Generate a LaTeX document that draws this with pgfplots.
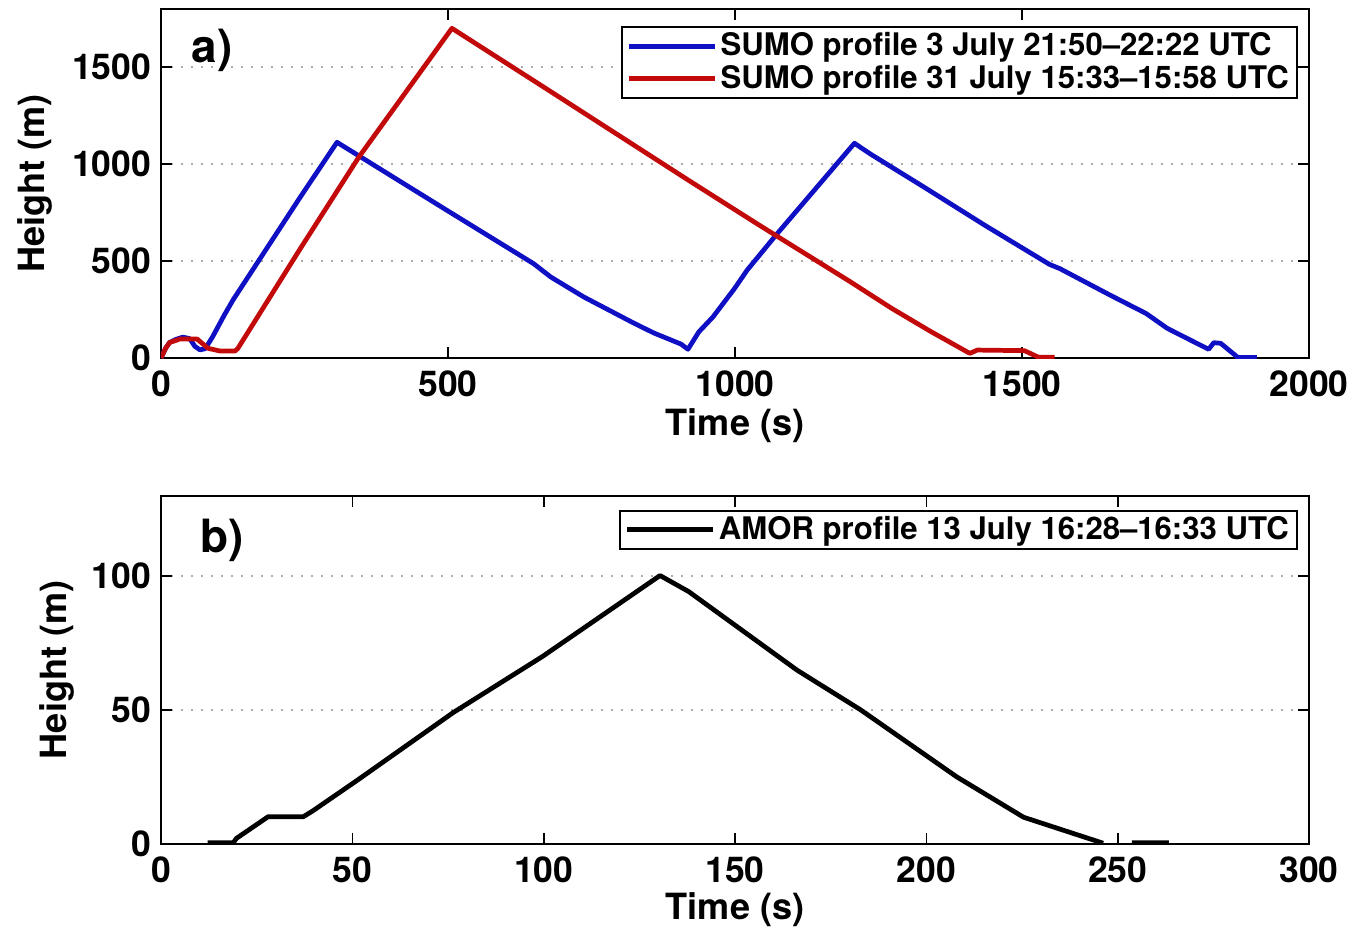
\documentclass[border=0pt]{standalone}
\usepackage{pgfplots}
\pgfplotsset{compat=1.18}
\usepackage{fontspec}
\setmainfont{TeX Gyre Heros}
\definecolor{mblue}{RGB}{15,15,195}
\definecolor{mred}{RGB}{195,10,10}
\pgfplotsset{
  mystyle/.style={
    scale only axis,
    width=413.3pt,
    axis line style={line width=0.8pt, black},
    tick style={line width=0.6pt, black},
    major tick length=4pt,
    tick align=inside,
    xtick pos=both, ytick pos=both,
    ymajorgrids,
    major grid style={line width=0.6pt, gray!65, dash pattern=on 0.7pt off 2.9pt},
    /pgf/number format/assume math mode=true,
    /pgf/number format/1000 sep={},
    ticklabel style={font=\fontsize{12.8}{14}\selectfont\bfseries},
    xticklabel style={yshift=-1pt},
    label style={font=\fontsize{13}{15}\selectfont\bfseries},
    legend cell align=left,
    legend style={font=\fontsize{11.2}{13}\selectfont\bfseries, draw=black, line width=0.7pt,
      anchor=north east, inner xsep=1.7pt, inner ysep=1.1pt,
      nodes={inner xsep=1.2pt, inner ysep=0.9pt}},
    legend image code/.code={\path (0pt,0pt) -- (31.1pt,0pt);\draw[#1,line width=1.6pt] (3pt,0pt) -- (29.6pt,0pt);},
    every axis plot/.append style={line width=1.7pt, line join=round},
  }
}
\begin{document}
\begin{tikzpicture}
\useasboundingbox (-57.96pt,-207pt) rectangle (431.64pt,128.88pt);
\begin{axis}[mystyle,
  at={(0pt,0pt)}, anchor=south west,
  height=125.6pt,
  xmin=0, xmax=2000, ymin=0, ymax=1800,
  xtick={0,500,1000,1500,2000},
  ytick={0,500,1000,1500},
  xlabel={Time (s)}, ylabel={Height (m)},
  xlabel style={at={(axis description cs:0.5,0)}, anchor=center, yshift=-24.2pt},
  ylabel style={at={(axis description cs:0,0.5)}, anchor=center, yshift=45.4pt},
  legend style={at={(axis description cs:1,1)}, xshift=-4pt, yshift=-6.1pt},
]
\addplot[mblue] coordinates {
(0,0) (8,50) (15,80) (25,95) (38,108) (50,100) (59,60) (68,42) (77,48) (90,110)
(110,220) (125.6,300) (242.6,830) (306.6,1113) (367.7,1001) (498.6,761)
(649,487) (679,418) (736.5,315) (823.7,180) (858.6,129) (905.8,72) (918,45)
(937,135) (961.6,212) (999,358) (1021,453) (1071,633) (1208,1108) (1235.6,1053)
(1329.6,881) (1435.6,684) (1547.8,483) (1566,461) (1653.7,324) (1716,230) (1753,153)
(1825,45) (1834,79) (1846,76) (1876,3) (1909,3)
};
\addlegendentry{SUMO profile 3 July 21:50--22:22 UTC}
\addplot[mred] coordinates {
(0,0) (8,50) (15,80) (33,98) (63,98) (68,85) (82,50) (103,36) (129,36) (134,50)
(242.6,564) (344.3,1035) (506.8,1701) (672.4,1387) (919.5,916)
(1039.8,690) (1200,395) (1273,256) (1342,135)
(1409,24) (1422,41) (1504,38) (1528.8,4) (1556.8,4)
};
\addlegendentry{SUMO profile 31 July 15:33--15:58 UTC}
\node[font=\fontsize{16.5}{18}\selectfont\bfseries, anchor=center] at (rel axis cs:0.0444,0.8825) {a)};
\end{axis}
\begin{axis}[mystyle,
  at={(0pt,-174.96pt)}, anchor=south west,
  height=125.4pt,
  xmin=0, xmax=300, ymin=0, ymax=130,
  xtick={0,50,100,150,200,250,300},
  ytick={0,50,100},
  xlabel={Time (s)}, ylabel={Height (m)},
  xlabel style={at={(axis description cs:0.5,0)}, anchor=center, yshift=-23.8pt},
  ylabel style={at={(axis description cs:0,0.5)}, anchor=center, yshift=37.4pt},
  legend style={at={(axis description cs:1,1)}, xshift=-4pt, yshift=-5pt},
  unbounded coords=jump,
]
\addplot[black] coordinates {
(12.2,0.5) (18.9,0.5) (19.7,2.1) (28,10.2) (37.2,10.2) (39.7,12.4) (51.4,23.9)
(76.3,49) (99.7,70) (130.4,100.2) (137.9,94.2) (166.2,64.9) (182.9,50) (207.9,25.1)
(225.4,10) (246.2,0.3) (250,nan) (253.7,0.5) (263.4,0.5)
};
\addlegendentry{AMOR profile 13 July 16:28--16:33 UTC}
\node[font=\fontsize{16.5}{18}\selectfont\bfseries, anchor=center] at (rel axis cs:0.053,0.872) {b)};
\end{axis}
\end{tikzpicture}
\end{document}
